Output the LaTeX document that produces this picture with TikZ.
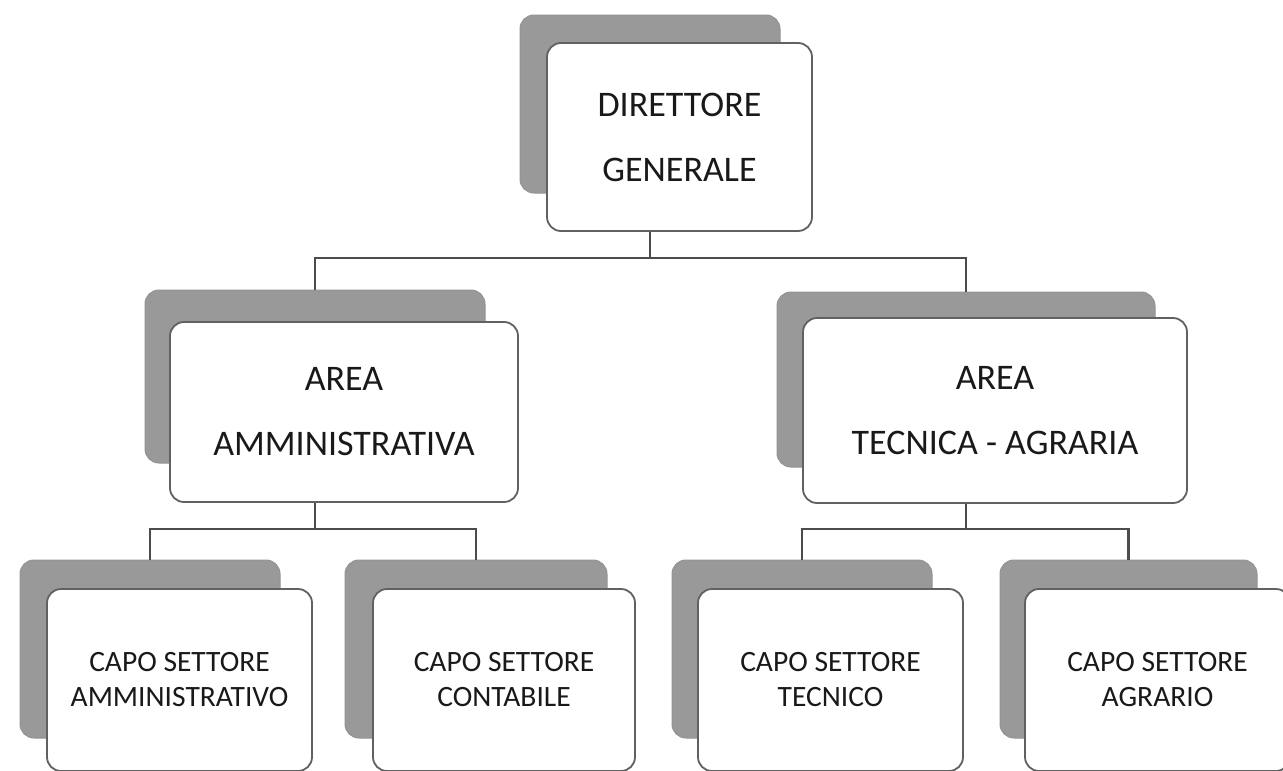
\documentclass[tikz,border=0pt]{standalone}
\usepackage{fontspec}
\setmainfont{Carlito}
\begin{document}
\begin{tikzpicture}[x=1pt,y=-1pt,
  backbox/.style={rectangle, rounded corners=14pt, fill=gray!80, draw=gray!85, line width=1pt, inner sep=0pt},
  frontbox/.style={rectangle, rounded corners=14pt, fill=white, draw=black!62, line width=1.8pt, inner sep=0pt, align=center, text=black!90},
  bigtext/.style={font=\fontsize{36}{65}\selectfont},
  smalltext/.style={font=\fontsize{29.5}{35}\selectfont},
  conn/.style={draw=black!70, line width=2.2pt}]
\useasboundingbox[fill=white] (0,0) rectangle (1283,771);
% top
\node[backbox, minimum width=260pt, minimum height=178pt] (topB) at (650,104) {};
\node[frontbox, bigtext, minimum width=265pt, minimum height=188pt] (topF) at (679.5,137) {DIRETTORE\\GENERALE};
% areas
\node[backbox, minimum width=340pt, minimum height=173pt] (amB) at (315,376.5) {};
\node[frontbox, bigtext, minimum width=348pt, minimum height=180pt] (amF) at (344,412) {AREA\\AMMINISTRATIVA};
\node[backbox, minimum width=378pt, minimum height=175pt] (tecB) at (966,379.5) {};
\node[frontbox, bigtext, minimum width=384pt, minimum height=185pt] (tecF) at (995,410.5) {AREA\\TECNICA - AGRARIA};
% bottom
\node[backbox, minimum width=260pt, minimum height=178pt] (b1B) at (150,649) {};
\node[frontbox, smalltext, minimum width=265pt, minimum height=182pt] (b1F) at (179.5,680) {CAPO SETTORE\\AMMINISTRATIVO};
\node[backbox, minimum width=262pt, minimum height=178pt] (b2B) at (476,649) {};
\node[frontbox, smalltext, minimum width=262pt, minimum height=182pt] (b2F) at (504,680) {CAPO SETTORE\\CONTABILE};
\node[backbox, minimum width=260pt, minimum height=178pt] (b3B) at (802,649) {};
\node[frontbox, smalltext, minimum width=265pt, minimum height=182pt] (b3F) at (830.5,680) {CAPO SETTORE\\TECNICO};
\node[backbox, minimum width=257pt, minimum height=178pt] (b4B) at (1128.5,649) {};
\node[frontbox, smalltext, minimum width=265pt, minimum height=182pt] (b4F) at (1157.5,680) {CAPO SETTORE\\AGRARIO};
% connectors
\coordinate (bar1) at (0,258);
\coordinate (bar2) at (0,529);
\draw[conn] (topB |- topF.south) -- (topB |- bar1);
\draw[conn] (amB.north) -- (amB |- bar1) -- (tecB |- bar1) -- (tecB.north);
\draw[conn] (amB |- amF.south) -- (amB |- bar2);
\draw[conn] (b1B.north) -- (b1B |- bar2) -- (b2B |- bar2) -- (b2B.north);
\draw[conn] (tecB |- tecF.south) -- (tecB |- bar2);
\draw[conn] (b3B.north) -- (b3B |- bar2) -- (b4B |- bar2) -- (b4B.north);
\end{tikzpicture}
\end{document}
